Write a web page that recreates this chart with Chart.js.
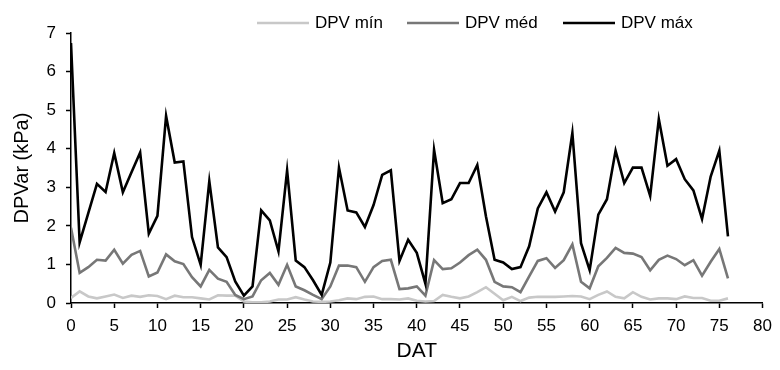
<!DOCTYPE html>
<html>
<head>
<meta charset="utf-8">
<script src="https://cdn.jsdelivr.net/npm/chart.js@4/dist/chart.umd.min.js"></script>
<style>
  html, body { margin: 0; padding: 0; background: #fff; }
  #wrap { width: 780px; height: 370px; }
</style>
</head>
<body>
<div id="wrap"><canvas id="c" width="780" height="370"></canvas></div>
<script>
// Days after transplanting
const dat = [0,1,2,3,4,5,6,7,8,9,10,11,12,13,14,15,16,17,18,19,20,21,22,23,24,25,26,27,28,29,30,31,32,33,34,35,36,37,38,39,40,41,42,43,44,45,46,47,48,49,50,51,52,53,54,55,56,57,58,59,60,61,62,63,64,65,66,67,68,69,70,71,72,73,74,75,76];

// Daily air vapour pressure deficit (kPa)
const dpvMin = [0.13,0.30,0.17,0.12,0.17,0.22,0.13,0.19,0.16,0.20,0.18,0.10,0.19,0.15,0.15,0.12,0.09,0.20,0.19,0.19,0.04,0.02,0.02,0.04,0.09,0.09,0.15,0.09,0.04,0.03,0.04,0.07,0.12,0.10,0.16,0.17,0.10,0.10,0.09,0.12,0.06,0.04,0.05,0.21,0.16,0.12,0.17,0.28,0.41,0.24,0.07,0.16,0.05,0.14,0.16,0.16,0.16,0.17,0.18,0.17,0.10,0.21,0.30,0.16,0.12,0.28,0.16,0.09,0.12,0.12,0.10,0.17,0.13,0.13,0.06,0.06,0.12];
const dpvMed = [1.95,0.78,0.93,1.12,1.10,1.38,1.02,1.25,1.35,0.69,0.79,1.26,1.08,1.01,0.67,0.43,0.86,0.63,0.55,0.21,0.10,0.17,0.59,0.78,0.47,0.99,0.43,0.33,0.21,0.10,0.43,0.97,0.97,0.93,0.55,0.93,1.09,1.12,0.36,0.38,0.43,0.19,1.11,0.88,0.90,1.05,1.24,1.38,1.12,0.55,0.43,0.41,0.28,0.69,1.09,1.16,0.91,1.11,1.52,0.55,0.38,0.95,1.17,1.43,1.30,1.28,1.19,0.85,1.12,1.23,1.14,0.98,1.11,0.71,1.07,1.40,0.64];
const dpvMax = [6.74,1.57,2.33,3.09,2.88,3.89,2.87,3.39,3.90,1.80,2.26,4.85,3.64,3.67,1.71,0.99,3.16,1.44,1.19,0.56,0.19,0.43,2.40,2.14,1.34,3.44,1.10,0.93,0.59,0.21,1.05,3.51,2.40,2.35,1.97,2.54,3.32,3.44,1.09,1.64,1.30,0.50,3.97,2.59,2.69,3.11,3.11,3.58,2.25,1.12,1.05,0.88,0.93,1.47,2.45,2.87,2.37,2.87,4.41,1.55,0.85,2.29,2.69,3.95,3.11,3.51,3.51,2.78,4.77,3.56,3.73,3.21,2.92,2.18,3.28,3.95,1.73];

const seriesLabels = ['DPV mín', 'DPV méd', 'DPV máx'];
const xTicks = { min: 0, max: 80, step: 5 };
const yTicks = { min: 0, max: 7, step: 1 };

const FONT = "'Liberation Sans', Arial, sans-serif";

function pts(vals) {
  return dat.map((d, i) => ({ x: d, y: vals[i] }));
}

// Line-sample legend along the top edge
const topLegend = {
  id: 'topLegend',
  afterDraw(chart) {
    const ctx = chart.ctx;
    const starts = [257, 407, 563];
    const sampleLen = 52;
    const y = 23;
    ctx.save();
    ctx.font = '17px ' + FONT;
    ctx.textBaseline = 'middle';
    ctx.textAlign = 'left';
    chart.data.datasets.forEach((ds, i) => {
      ctx.strokeStyle = ds.borderColor;
      ctx.lineWidth = 2.5;
      ctx.beginPath();
      ctx.moveTo(starts[i], y);
      ctx.lineTo(starts[i] + sampleLen, y);
      ctx.stroke();
      ctx.fillStyle = '#000';
      ctx.fillText(ds.label, starts[i] + sampleLen + 6, y);
    });
    ctx.restore();
  }
};

new Chart(document.getElementById('c'), {
  type: 'line',
  data: {
    datasets: [
      { label: seriesLabels[0], data: pts(dpvMin), borderColor: '#c8c8c8', order: 3 },
      { label: seriesLabels[1], data: pts(dpvMed), borderColor: '#777777', order: 2 },
      { label: seriesLabels[2], data: pts(dpvMax), borderColor: '#000000', order: 1 }
    ]
  },
  options: {
    responsive: false,
    animation: false,
    elements: {
      line: { borderWidth: 2.6, tension: 0, fill: false },
      point: { radius: 0, hoverRadius: 0 }
    },
    layout: { padding: { top: 33, right: 13, bottom: 0, left: 0 } },
    plugins: {
      legend: { display: false },
      tooltip: { enabled: false }
    },
    scales: {
      x: {
        type: 'linear',
        min: xTicks.min,
        max: xTicks.max,
        afterFit(scale) { scale.height = 67; },
        ticks: {
          stepSize: xTicks.step,
          color: '#000',
          font: { family: FONT, size: 17 },
          padding: 8,
          maxRotation: 0
        },
        grid: {
          drawOnChartArea: false,
          drawTicks: true,
          tickLength: 5,
          tickColor: '#000',
          tickWidth: 1.5
        },
        border: { display: true, color: '#000', width: 1.5 },
        title: {
          display: true,
          text: 'DAT',
          color: '#000',
          font: { family: FONT, size: 21 },
          padding: { top: 4, bottom: 6 }
        }
      },
      y: {
        min: yTicks.min,
        max: yTicks.max,
        afterFit(scale) { scale.width = 71; },
        ticks: {
          stepSize: yTicks.step,
          color: '#000',
          font: { family: FONT, size: 17 },
          padding: 10
        },
        grid: {
          drawOnChartArea: false,
          drawTicks: true,
          tickLength: 5,
          tickColor: '#000',
          tickWidth: 1.5
        },
        border: { display: true, color: '#000', width: 1.5 },
        title: {
          display: true,
          text: 'DPVar (kPa)',
          color: '#000',
          font: { family: FONT, size: 20 },
          padding: { top: 10, bottom: 0 }
        }
      }
    }
  },
  plugins: [topLegend]
});
</script>
</body>
</html>
